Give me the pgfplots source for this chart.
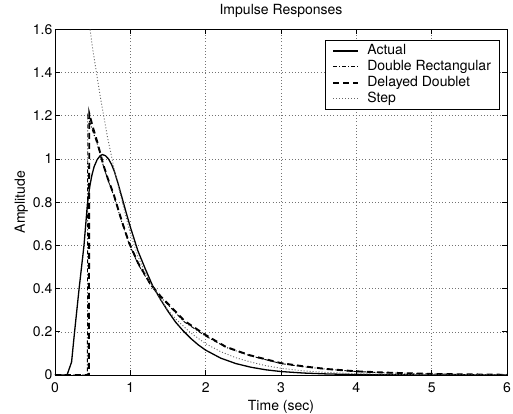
\documentclass[border=0pt]{standalone}
\usepackage{fontspec}
\setmainfont{TeX Gyre Heros}
\usepackage{pgfplots}
\pgfplotsset{compat=1.18}

\begin{document}
\fontsize{14bp}{17bp}\selectfont
\begin{tikzpicture}
\useasboundingbox (-55bp,-39bp) rectangle (458bp,375bp);
\begin{axis}[
    scale only axis,
    width=452bp, height=345.7bp,
    xmin=0, xmax=6, ymin=0, ymax=1.6,
    xtick={0,1,2,3,4,5,6},
    ytick={0,0.2,0.4,0.6,0.8,1,1.2,1.4,1.6},
    /pgf/number format/assume math mode=true,
    /pgf/number format/fixed,
    /pgf/number format/precision=1,
    tick align=inside,
    major tick length=5bp,
    tick style={black, line width=0.7bp},
    axis line style={black, line width=0.8bp},
    grid=major,
    major grid style={black!55, line width=0.5bp, dash pattern=on 0.8bp off 2.4bp},
    xticklabel style={inner sep=0pt, yshift=-7.5bp},
    yticklabel style={inner sep=0pt, xshift=-2.5bp},
    title={Impulse Responses},
    title style={at={(axis description cs:0.5,1)}, anchor=base, yshift=9.3bp, inner sep=0pt},
    xlabel={Time (sec)},
    xlabel style={at={(axis description cs:0.5,0)}, anchor=base, yshift=-35bp, inner sep=0pt},
    ylabel={Amplitude},
    ylabel style={at={(axis description cs:-0.0664,0.5)}, anchor=base, inner sep=0pt},
    legend cell align=left,
    legend image code/.code={\draw[#1] (0bp,0bp) -- (25bp,0bp);},
    legend style={at={(axis description cs:0.983,0.969)}, anchor=north east,
        draw=black, line width=0.8bp, fill=white,
        inner xsep=7bp, inner ysep=3bp, row sep=1bp, column sep=8bp,
        nodes={inner sep=0pt, text height=11bp, text depth=4bp}},
]
% Actual
\addplot[black, line width=1.3bp] coordinates {
    (0,0) (0.16,0) (0.22,0.06) (0.26,0.2) (0.32,0.4) (0.385,0.6) (0.43,0.79)
    (0.46,0.87) (0.49,0.925) (0.52,0.965) (0.56,0.997) (0.6,1.015) (0.63,1.02)
    (0.67,1.015) (0.71,1.0) (0.75,0.975) (0.79,0.94) (0.83,0.895) (0.87,0.845)
    (0.9,0.808) (0.95,0.745) (1.0,0.685) (1.1,0.575) (1.2,0.49)
    (1.3,0.41) (1.4,0.35) (1.5,0.295) (1.6,0.245) (1.7,0.205) (1.8,0.17)
    (1.9,0.14) (2.0,0.115) (2.2,0.078) (2.4,0.053) (2.6,0.036) (2.8,0.024)
    (3.0,0.016) (3.3,0.009) (3.6,0.005) (4.0,0.002) (5.0,0) (6.0,0)
};
\addlegendentry{Actual}
% Double Rectangular
\addplot[black, line width=0.9bp, dash pattern=on 4bp off 2bp on 1bp off 2bp] coordinates {
    (0,0) (0.43,0) (0.435,1.2) (0.5,1.13) (0.56,1.07) (0.64,0.97) (0.7,0.905)
    (0.78,0.83) (0.88,0.715) (0.98,0.61) (1.1,0.515) (1.27,0.415) (1.4,0.36)
    (1.5,0.325) (1.72,0.245) (2.0,0.18) (2.27,0.128) (2.58,0.09) (3.0,0.053)
    (3.3,0.038) (3.6,0.027) (4.0,0.016) (4.4,0.01) (5.0,0.005) (5.5,0.002) (6.0,0.001)
};
\addlegendentry{Double Rectangular\hspace*{1bp}}
% Delayed Doublet
\addplot[black, line width=1.9bp, dash pattern=on 6bp off 4bp] coordinates {
    (0,0) (0.45,0) (0.455,1.21) (0.5,1.15) (0.56,1.08) (0.64,0.975) (0.7,0.91)
    (0.78,0.835) (0.88,0.72) (0.98,0.615) (1.1,0.52) (1.27,0.42) (1.4,0.365)
    (1.5,0.33) (1.72,0.25) (2.0,0.185) (2.27,0.13) (2.58,0.092) (3.0,0.055)
    (3.3,0.04) (3.6,0.028) (4.0,0.017) (4.4,0.011) (5.0,0.005) (5.5,0.003) (6.0,0.001)
};
\addlegendentry{Delayed Doublet}
% Step
\addplot[black!60, line width=0.9bp, dash pattern=on 1bp off 2bp] coordinates {
    (0.45,1.64) (0.5,1.51) (0.6,1.29) (0.7,1.095) (0.8,0.93) (0.9,0.79)
    (1.0,0.655) (1.1,0.55) (1.2,0.47) (1.3,0.405) (1.4,0.35) (1.5,0.30)
    (1.6,0.26) (1.8,0.195) (2.0,0.145) (2.2,0.108) (2.4,0.08) (2.6,0.06)
    (2.8,0.043) (3.0,0.031) (3.3,0.019) (3.6,0.012) (4.0,0.006) (4.5,0.003)
    (5.0,0.001) (6.0,0)
};
\addlegendentry{Step}
\end{axis}
\end{tikzpicture}
\end{document}
